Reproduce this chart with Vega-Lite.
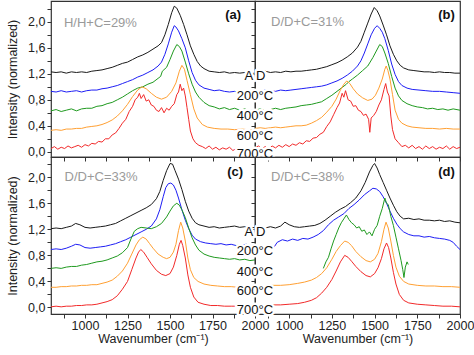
{
"$schema":"https://vega.github.io/schema/vega-lite/v6.json",
"padding":{"left":6,"top":0,"right":0,"bottom":0},
"spacing":0,
"bounds":"flush",
"columns":2,
"config":{"view":{"stroke":"#333","strokeWidth":1.2},
"axis":{"domain":false,"grid":false,"tickColor":"#333","tickSize":4,"labelOverlap":false,"labelFlush":false,"labelFont":"Liberation Sans","labelFontSize":12.5,"labelColor":"#222","titleFont":"Liberation Sans","titleFontSize":12.5,"titleFontWeight":"normal","titleColor":"#222"},
"axisY":{"labelOverlap":false},
"text":{"font":"Liberation Sans"},
"line":{"strokeWidth":1}},
"datasets":{
"a":[
{"s":1,"x":800,"y":1.23},{"s":1,"x":830,"y":1.22},{"s":1,"x":860,"y":1.23},{"s":1,"x":890,"y":1.21},{"s":1,"x":920,"y":1.23},{"s":1,"x":950,"y":1.22},{"s":1,"x":980,"y":1.23},{"s":1,"x":1010,"y":1.22},{"s":1,"x":1040,"y":1.24},{"s":1,"x":1070,"y":1.25},{"s":1,"x":1100,"y":1.26},{"s":1,"x":1130,"y":1.28},{"s":1,"x":1160,"y":1.3},{"s":1,"x":1190,"y":1.33},{"s":1,"x":1220,"y":1.36},{"s":1,"x":1250,"y":1.38},{"s":1,"x":1280,"y":1.42},{"s":1,"x":1310,"y":1.46},{"s":1,"x":1340,"y":1.49},{"s":1,"x":1370,"y":1.53},{"s":1,"x":1400,"y":1.58},{"s":1,"x":1430,"y":1.63},{"s":1,"x":1450,"y":1.68},{"s":1,"x":1470,"y":1.8},{"s":1,"x":1490,"y":1.96},{"s":1,"x":1510,"y":2.14},{"s":1,"x":1525,"y":2.24},{"s":1,"x":1540,"y":2.21},{"s":1,"x":1560,"y":2.1},{"s":1,"x":1580,"y":1.96},{"s":1,"x":1600,"y":1.8},{"s":1,"x":1620,"y":1.63},{"s":1,"x":1640,"y":1.5},{"s":1,"x":1660,"y":1.39},{"s":1,"x":1680,"y":1.32},{"s":1,"x":1700,"y":1.28},{"s":1,"x":1730,"y":1.24},{"s":1,"x":1760,"y":1.23},{"s":1,"x":1790,"y":1.22},{"s":1,"x":1820,"y":1.23},{"s":1,"x":1850,"y":1.21},{"s":1,"x":1880,"y":1.22},{"s":1,"x":1910,"y":1.21},{"s":1,"x":1940,"y":1.22},{"s":1,"x":1970,"y":1.2},{"s":1,"x":2000,"y":1.21},
{"s":2,"x":800,"y":0.93},{"s":2,"x":830,"y":0.92},{"s":2,"x":860,"y":0.94},{"s":2,"x":890,"y":0.92},{"s":2,"x":920,"y":0.93},{"s":2,"x":950,"y":0.94},{"s":2,"x":980,"y":0.92},{"s":2,"x":1010,"y":0.94},{"s":2,"x":1040,"y":0.95},{"s":2,"x":1070,"y":0.95},{"s":2,"x":1100,"y":0.97},{"s":2,"x":1130,"y":0.98},{"s":2,"x":1160,"y":1.0},{"s":2,"x":1190,"y":1.02},{"s":2,"x":1220,"y":1.05},{"s":2,"x":1250,"y":1.08},{"s":2,"x":1280,"y":1.11},{"s":2,"x":1310,"y":1.15},{"s":2,"x":1340,"y":1.18},{"s":2,"x":1370,"y":1.22},{"s":2,"x":1400,"y":1.26},{"s":2,"x":1430,"y":1.32},{"s":2,"x":1450,"y":1.38},{"s":2,"x":1470,"y":1.5},{"s":2,"x":1490,"y":1.66},{"s":2,"x":1510,"y":1.84},{"s":2,"x":1525,"y":1.94},{"s":2,"x":1535,"y":1.92},{"s":2,"x":1550,"y":1.86},{"s":2,"x":1570,"y":1.74},{"s":2,"x":1590,"y":1.6},{"s":2,"x":1610,"y":1.4},{"s":2,"x":1630,"y":1.22},{"s":2,"x":1650,"y":1.1},{"s":2,"x":1670,"y":1.03},{"s":2,"x":1700,"y":0.98},{"s":2,"x":1730,"y":0.96},{"s":2,"x":1760,"y":0.94},{"s":2,"x":1790,"y":0.95},{"s":2,"x":1820,"y":0.93},{"s":2,"x":1850,"y":0.92},{"s":2,"x":1880,"y":0.93},{"s":2,"x":1910,"y":0.91},{"s":2,"x":1940,"y":0.92},{"s":2,"x":1970,"y":0.9},{"s":2,"x":2000,"y":0.91},
{"s":3,"x":800,"y":0.63},{"s":3,"x":830,"y":0.65},{"s":3,"x":860,"y":0.62},{"s":3,"x":890,"y":0.64},{"s":3,"x":920,"y":0.66},{"s":3,"x":950,"y":0.63},{"s":3,"x":980,"y":0.66},{"s":3,"x":1010,"y":0.67},{"s":3,"x":1040,"y":0.67},{"s":3,"x":1070,"y":0.7},{"s":3,"x":1100,"y":0.71},{"s":3,"x":1130,"y":0.74},{"s":3,"x":1160,"y":0.76},{"s":3,"x":1190,"y":0.8},{"s":3,"x":1220,"y":0.84},{"s":3,"x":1250,"y":0.89},{"s":3,"x":1280,"y":0.94},{"s":3,"x":1310,"y":0.98},{"s":3,"x":1340,"y":1.0},{"s":3,"x":1370,"y":1.04},{"s":3,"x":1400,"y":1.07},{"s":3,"x":1430,"y":1.13},{"s":3,"x":1445,"y":1.16},{"s":3,"x":1455,"y":1.24},{"s":3,"x":1480,"y":1.3},{"s":3,"x":1500,"y":1.42},{"s":3,"x":1520,"y":1.55},{"s":3,"x":1540,"y":1.65},{"s":3,"x":1555,"y":1.62},{"s":3,"x":1570,"y":1.55},{"s":3,"x":1590,"y":1.38},{"s":3,"x":1610,"y":1.2},{"s":3,"x":1630,"y":1.04},{"s":3,"x":1650,"y":0.92},{"s":3,"x":1670,"y":0.84},{"s":3,"x":1700,"y":0.76},{"s":3,"x":1730,"y":0.71},{"s":3,"x":1760,"y":0.69},{"s":3,"x":1790,"y":0.66},{"s":3,"x":1820,"y":0.68},{"s":3,"x":1850,"y":0.65},{"s":3,"x":1880,"y":0.67},{"s":3,"x":1910,"y":0.64},{"s":3,"x":1940,"y":0.66},{"s":3,"x":1970,"y":0.63},{"s":3,"x":2000,"y":0.65},
{"s":4,"x":800,"y":0.33},{"s":4,"x":830,"y":0.34},{"s":4,"x":860,"y":0.33},{"s":4,"x":890,"y":0.35},{"s":4,"x":920,"y":0.35},{"s":4,"x":950,"y":0.36},{"s":4,"x":980,"y":0.36},{"s":4,"x":1010,"y":0.38},{"s":4,"x":1040,"y":0.39},{"s":4,"x":1070,"y":0.4},{"s":4,"x":1100,"y":0.42},{"s":4,"x":1130,"y":0.45},{"s":4,"x":1160,"y":0.49},{"s":4,"x":1190,"y":0.55},{"s":4,"x":1220,"y":0.63},{"s":4,"x":1250,"y":0.73},{"s":4,"x":1280,"y":0.85},{"s":4,"x":1310,"y":0.95},{"s":4,"x":1335,"y":1.0},{"s":4,"x":1360,"y":0.97},{"s":4,"x":1390,"y":0.9},{"s":4,"x":1420,"y":0.84},{"s":4,"x":1450,"y":0.81},{"s":4,"x":1480,"y":0.84},{"s":4,"x":1510,"y":0.93},{"s":4,"x":1535,"y":1.06},{"s":4,"x":1555,"y":1.24},{"s":4,"x":1570,"y":1.33},{"s":4,"x":1585,"y":1.27},{"s":4,"x":1600,"y":1.1},{"s":4,"x":1620,"y":0.88},{"s":4,"x":1640,"y":0.66},{"s":4,"x":1660,"y":0.52},{"s":4,"x":1690,"y":0.42},{"s":4,"x":1720,"y":0.38},{"s":4,"x":1760,"y":0.36},{"s":4,"x":1800,"y":0.35},{"s":4,"x":1840,"y":0.35},{"s":4,"x":1880,"y":0.34},{"s":4,"x":1920,"y":0.35},{"s":4,"x":1960,"y":0.34},{"s":4,"x":2000,"y":0.34},
{"s":5,"x":800,"y":0.05},{"s":5,"x":820,"y":0.08},{"s":5,"x":840,"y":0.04},{"s":5,"x":860,"y":0.07},{"s":5,"x":880,"y":0.05},{"s":5,"x":900,"y":0.09},{"s":5,"x":920,"y":0.06},{"s":5,"x":940,"y":0.08},{"s":5,"x":960,"y":0.1},{"s":5,"x":980,"y":0.07},{"s":5,"x":1000,"y":0.11},{"s":5,"x":1020,"y":0.09},{"s":5,"x":1040,"y":0.13},{"s":5,"x":1060,"y":0.12},{"s":5,"x":1080,"y":0.16},{"s":5,"x":1100,"y":0.15},{"s":5,"x":1120,"y":0.2},{"s":5,"x":1140,"y":0.2},{"s":5,"x":1160,"y":0.26},{"s":5,"x":1180,"y":0.29},{"s":5,"x":1200,"y":0.36},{"s":5,"x":1220,"y":0.44},{"s":5,"x":1240,"y":0.5},{"s":5,"x":1260,"y":0.62},{"s":5,"x":1280,"y":0.7},{"s":5,"x":1295,"y":0.8},{"s":5,"x":1310,"y":0.84},{"s":5,"x":1320,"y":0.9},{"s":5,"x":1330,"y":0.82},{"s":5,"x":1345,"y":0.88},{"s":5,"x":1360,"y":0.78},{"s":5,"x":1375,"y":0.8},{"s":5,"x":1390,"y":0.72},{"s":5,"x":1405,"y":0.7},{"s":5,"x":1420,"y":0.64},{"s":5,"x":1435,"y":0.62},{"s":5,"x":1450,"y":0.68},{"s":5,"x":1465,"y":0.6},{"s":5,"x":1480,"y":0.67},{"s":5,"x":1495,"y":0.64},{"s":5,"x":1510,"y":0.7},{"s":5,"x":1525,"y":0.74},{"s":5,"x":1540,"y":0.88},{"s":5,"x":1550,"y":0.92},{"s":5,"x":1560,"y":1.04},{"s":5,"x":1570,"y":0.94},{"s":5,"x":1580,"y":0.98},{"s":5,"x":1590,"y":0.86},{"s":5,"x":1600,"y":0.68},{"s":5,"x":1610,"y":0.5},{"s":5,"x":1620,"y":0.32},{"s":5,"x":1635,"y":0.2},{"s":5,"x":1650,"y":0.14},{"s":5,"x":1670,"y":0.1},{"s":5,"x":1690,"y":0.08},{"s":5,"x":1710,"y":0.05},{"s":5,"x":1730,"y":0.09},{"s":5,"x":1750,"y":0.04},{"s":5,"x":1770,"y":0.07},{"s":5,"x":1790,"y":0.03},{"s":5,"x":1810,"y":0.06},{"s":5,"x":1830,"y":0.04},{"s":5,"x":1850,"y":0.07},{"s":5,"x":1870,"y":0.02},{"s":5,"x":1890,"y":0.05},{"s":5,"x":1910,"y":0.03},{"s":5,"x":1930,"y":0.06},{"s":5,"x":1950,"y":0.02},{"s":5,"x":1970,"y":0.05},{"s":5,"x":2000,"y":0.03}
],
"b":[
{"s":1,"x":800,"y":1.23},{"s":1,"x":830,"y":1.22},{"s":1,"x":860,"y":1.24},{"s":1,"x":890,"y":1.22},{"s":1,"x":920,"y":1.23},{"s":1,"x":950,"y":1.22},{"s":1,"x":980,"y":1.24},{"s":1,"x":1010,"y":1.23},{"s":1,"x":1040,"y":1.24},{"s":1,"x":1070,"y":1.24},{"s":1,"x":1100,"y":1.25},{"s":1,"x":1130,"y":1.26},{"s":1,"x":1160,"y":1.27},{"s":1,"x":1190,"y":1.29},{"s":1,"x":1220,"y":1.31},{"s":1,"x":1250,"y":1.34},{"s":1,"x":1280,"y":1.37},{"s":1,"x":1310,"y":1.41},{"s":1,"x":1340,"y":1.46},{"s":1,"x":1370,"y":1.52},{"s":1,"x":1400,"y":1.61},{"s":1,"x":1420,"y":1.7},{"s":1,"x":1440,"y":1.84},{"s":1,"x":1460,"y":1.98},{"s":1,"x":1480,"y":2.12},{"s":1,"x":1498,"y":2.22},{"s":1,"x":1515,"y":2.17},{"s":1,"x":1530,"y":2.09},{"s":1,"x":1550,"y":1.95},{"s":1,"x":1570,"y":1.8},{"s":1,"x":1590,"y":1.63},{"s":1,"x":1610,"y":1.5},{"s":1,"x":1630,"y":1.4},{"s":1,"x":1650,"y":1.33},{"s":1,"x":1670,"y":1.29},{"s":1,"x":1700,"y":1.26},{"s":1,"x":1730,"y":1.25},{"s":1,"x":1760,"y":1.24},{"s":1,"x":1790,"y":1.23},{"s":1,"x":1820,"y":1.23},{"s":1,"x":1850,"y":1.22},{"s":1,"x":1880,"y":1.23},{"s":1,"x":1910,"y":1.22},{"s":1,"x":1940,"y":1.22},{"s":1,"x":1970,"y":1.21},{"s":1,"x":2000,"y":1.21},
{"s":2,"x":800,"y":0.94},{"s":2,"x":830,"y":0.93},{"s":2,"x":860,"y":0.95},{"s":2,"x":890,"y":0.94},{"s":2,"x":920,"y":0.93},{"s":2,"x":950,"y":0.95},{"s":2,"x":980,"y":0.94},{"s":2,"x":1010,"y":0.95},{"s":2,"x":1040,"y":0.96},{"s":2,"x":1070,"y":0.97},{"s":2,"x":1100,"y":0.98},{"s":2,"x":1130,"y":0.99},{"s":2,"x":1160,"y":1.0},{"s":2,"x":1190,"y":1.01},{"s":2,"x":1220,"y":1.03},{"s":2,"x":1250,"y":1.06},{"s":2,"x":1280,"y":1.09},{"s":2,"x":1310,"y":1.13},{"s":2,"x":1340,"y":1.18},{"s":2,"x":1370,"y":1.24},{"s":2,"x":1400,"y":1.32},{"s":2,"x":1420,"y":1.4},{"s":2,"x":1440,"y":1.52},{"s":2,"x":1460,"y":1.66},{"s":2,"x":1480,"y":1.8},{"s":2,"x":1500,"y":1.9},{"s":2,"x":1515,"y":1.94},{"s":2,"x":1530,"y":1.9},{"s":2,"x":1545,"y":1.84},{"s":2,"x":1560,"y":1.74},{"s":2,"x":1580,"y":1.56},{"s":2,"x":1600,"y":1.35},{"s":2,"x":1620,"y":1.19},{"s":2,"x":1640,"y":1.08},{"s":2,"x":1660,"y":1.02},{"s":2,"x":1690,"y":0.98},{"s":2,"x":1720,"y":0.96},{"s":2,"x":1760,"y":0.95},{"s":2,"x":1800,"y":0.94},{"s":2,"x":1840,"y":0.93},{"s":2,"x":1880,"y":0.93},{"s":2,"x":1920,"y":0.92},{"s":2,"x":1960,"y":0.91},{"s":2,"x":2000,"y":0.9},
{"s":3,"x":800,"y":0.64},{"s":3,"x":830,"y":0.66},{"s":3,"x":860,"y":0.63},{"s":3,"x":890,"y":0.65},{"s":3,"x":920,"y":0.67},{"s":3,"x":950,"y":0.65},{"s":3,"x":980,"y":0.67},{"s":3,"x":1010,"y":0.68},{"s":3,"x":1040,"y":0.69},{"s":3,"x":1070,"y":0.71},{"s":3,"x":1100,"y":0.72},{"s":3,"x":1130,"y":0.73},{"s":3,"x":1160,"y":0.75},{"s":3,"x":1190,"y":0.77},{"s":3,"x":1220,"y":0.82},{"s":3,"x":1250,"y":0.87},{"s":3,"x":1280,"y":0.93},{"s":3,"x":1310,"y":0.99},{"s":3,"x":1335,"y":1.04},{"s":3,"x":1350,"y":1.08},{"s":3,"x":1370,"y":1.12},{"s":3,"x":1400,"y":1.18},{"s":3,"x":1430,"y":1.25},{"s":3,"x":1460,"y":1.32},{"s":3,"x":1490,"y":1.45},{"s":3,"x":1510,"y":1.55},{"s":3,"x":1530,"y":1.65},{"s":3,"x":1545,"y":1.62},{"s":3,"x":1560,"y":1.52},{"s":3,"x":1580,"y":1.36},{"s":3,"x":1600,"y":1.16},{"s":3,"x":1620,"y":0.98},{"s":3,"x":1640,"y":0.86},{"s":3,"x":1660,"y":0.79},{"s":3,"x":1690,"y":0.74},{"s":3,"x":1720,"y":0.71},{"s":3,"x":1750,"y":0.69},{"s":3,"x":1780,"y":0.68},{"s":3,"x":1810,"y":0.66},{"s":3,"x":1840,"y":0.67},{"s":3,"x":1870,"y":0.65},{"s":3,"x":1900,"y":0.66},{"s":3,"x":1930,"y":0.64},{"s":3,"x":1960,"y":0.66},{"s":3,"x":2000,"y":0.64},
{"s":4,"x":800,"y":0.36},{"s":4,"x":830,"y":0.37},{"s":4,"x":860,"y":0.36},{"s":4,"x":890,"y":0.37},{"s":4,"x":920,"y":0.38},{"s":4,"x":950,"y":0.37},{"s":4,"x":980,"y":0.38},{"s":4,"x":1010,"y":0.39},{"s":4,"x":1040,"y":0.4},{"s":4,"x":1070,"y":0.4},{"s":4,"x":1100,"y":0.41},{"s":4,"x":1130,"y":0.44},{"s":4,"x":1160,"y":0.48},{"s":4,"x":1190,"y":0.53},{"s":4,"x":1220,"y":0.61},{"s":4,"x":1250,"y":0.7},{"s":4,"x":1275,"y":0.81},{"s":4,"x":1300,"y":0.95},{"s":4,"x":1320,"y":1.04},{"s":4,"x":1337,"y":1.09},{"s":4,"x":1355,"y":1.05},{"s":4,"x":1375,"y":0.97},{"s":4,"x":1400,"y":0.89},{"s":4,"x":1430,"y":0.83},{"s":4,"x":1460,"y":0.79},{"s":4,"x":1485,"y":0.81},{"s":4,"x":1505,"y":0.87},{"s":4,"x":1525,"y":0.98},{"s":4,"x":1545,"y":1.12},{"s":4,"x":1560,"y":1.27},{"s":4,"x":1568,"y":1.32},{"s":4,"x":1578,"y":1.25},{"s":4,"x":1590,"y":1.12},{"s":4,"x":1605,"y":0.88},{"s":4,"x":1620,"y":0.64},{"s":4,"x":1640,"y":0.5},{"s":4,"x":1660,"y":0.44},{"s":4,"x":1690,"y":0.4},{"s":4,"x":1720,"y":0.38},{"s":4,"x":1760,"y":0.37},{"s":4,"x":1800,"y":0.36},{"s":4,"x":1840,"y":0.36},{"s":4,"x":1880,"y":0.35},{"s":4,"x":1920,"y":0.36},{"s":4,"x":1960,"y":0.35},{"s":4,"x":2000,"y":0.35},
{"s":5,"x":800,"y":0.06},{"s":5,"x":820,"y":0.09},{"s":5,"x":840,"y":0.05},{"s":5,"x":860,"y":0.08},{"s":5,"x":880,"y":0.04},{"s":5,"x":900,"y":0.09},{"s":5,"x":920,"y":0.06},{"s":5,"x":940,"y":0.1},{"s":5,"x":960,"y":0.07},{"s":5,"x":980,"y":0.11},{"s":5,"x":1000,"y":0.08},{"s":5,"x":1020,"y":0.12},{"s":5,"x":1040,"y":0.1},{"s":5,"x":1060,"y":0.14},{"s":5,"x":1080,"y":0.12},{"s":5,"x":1100,"y":0.17},{"s":5,"x":1120,"y":0.16},{"s":5,"x":1140,"y":0.21},{"s":5,"x":1160,"y":0.22},{"s":5,"x":1180,"y":0.27},{"s":5,"x":1200,"y":0.3},{"s":5,"x":1220,"y":0.39},{"s":5,"x":1240,"y":0.46},{"s":5,"x":1260,"y":0.57},{"s":5,"x":1280,"y":0.68},{"s":5,"x":1295,"y":0.75},{"s":5,"x":1310,"y":0.9},{"s":5,"x":1320,"y":0.84},{"s":5,"x":1330,"y":0.94},{"s":5,"x":1345,"y":0.8},{"s":5,"x":1360,"y":0.78},{"s":5,"x":1375,"y":0.7},{"s":5,"x":1390,"y":0.71},{"s":5,"x":1405,"y":0.64},{"s":5,"x":1420,"y":0.62},{"s":5,"x":1435,"y":0.56},{"s":5,"x":1450,"y":0.58},{"s":5,"x":1465,"y":0.5},{"s":5,"x":1472,"y":0.3},{"s":5,"x":1480,"y":0.52},{"s":5,"x":1495,"y":0.56},{"s":5,"x":1510,"y":0.62},{"s":5,"x":1525,"y":0.72},{"s":5,"x":1540,"y":0.8},{"s":5,"x":1555,"y":0.96},{"s":5,"x":1565,"y":1.05},{"s":5,"x":1575,"y":0.92},{"s":5,"x":1585,"y":0.86},{"s":5,"x":1595,"y":0.55},{"s":5,"x":1605,"y":0.34},{"s":5,"x":1620,"y":0.2},{"s":5,"x":1640,"y":0.14},{"s":5,"x":1660,"y":0.08},{"s":5,"x":1680,"y":0.1},{"s":5,"x":1700,"y":0.06},{"s":5,"x":1720,"y":0.1},{"s":5,"x":1740,"y":0.05},{"s":5,"x":1760,"y":0.08},{"s":5,"x":1780,"y":0.04},{"s":5,"x":1800,"y":0.09},{"s":5,"x":1820,"y":0.05},{"s":5,"x":1840,"y":0.08},{"s":5,"x":1860,"y":0.04},{"s":5,"x":1880,"y":0.07},{"s":5,"x":1900,"y":0.05},{"s":5,"x":1920,"y":0.09},{"s":5,"x":1940,"y":0.04},{"s":5,"x":1960,"y":0.08},{"s":5,"x":1980,"y":0.05},{"s":5,"x":2000,"y":0.07}
],
"c":[
{"s":1,"x":800,"y":1.21},{"s":1,"x":830,"y":1.22},{"s":1,"x":860,"y":1.21},{"s":1,"x":890,"y":1.23},{"s":1,"x":920,"y":1.25},{"s":1,"x":945,"y":1.29},{"s":1,"x":970,"y":1.27},{"s":1,"x":1000,"y":1.23},{"s":1,"x":1030,"y":1.22},{"s":1,"x":1060,"y":1.23},{"s":1,"x":1090,"y":1.24},{"s":1,"x":1120,"y":1.25},{"s":1,"x":1150,"y":1.27},{"s":1,"x":1180,"y":1.29},{"s":1,"x":1210,"y":1.33},{"s":1,"x":1240,"y":1.37},{"s":1,"x":1270,"y":1.41},{"s":1,"x":1300,"y":1.45},{"s":1,"x":1330,"y":1.49},{"s":1,"x":1360,"y":1.53},{"s":1,"x":1390,"y":1.58},{"s":1,"x":1420,"y":1.67},{"s":1,"x":1440,"y":1.78},{"s":1,"x":1460,"y":1.95},{"s":1,"x":1480,"y":2.1},{"s":1,"x":1500,"y":2.21},{"s":1,"x":1515,"y":2.2},{"s":1,"x":1530,"y":2.1},{"s":1,"x":1550,"y":1.97},{"s":1,"x":1570,"y":1.81},{"s":1,"x":1590,"y":1.63},{"s":1,"x":1610,"y":1.48},{"s":1,"x":1630,"y":1.37},{"s":1,"x":1650,"y":1.3},{"s":1,"x":1670,"y":1.27},{"s":1,"x":1700,"y":1.25},{"s":1,"x":1730,"y":1.23},{"s":1,"x":1760,"y":1.24},{"s":1,"x":1790,"y":1.22},{"s":1,"x":1820,"y":1.23},{"s":1,"x":1850,"y":1.24},{"s":1,"x":1880,"y":1.25},{"s":1,"x":1910,"y":1.23},{"s":1,"x":1940,"y":1.24},{"s":1,"x":1970,"y":1.22},{"s":1,"x":2000,"y":1.23},
{"s":2,"x":800,"y":0.89},{"s":2,"x":830,"y":0.9},{"s":2,"x":860,"y":0.89},{"s":2,"x":890,"y":0.91},{"s":2,"x":920,"y":0.94},{"s":2,"x":945,"y":0.97},{"s":2,"x":970,"y":0.96},{"s":2,"x":1000,"y":0.92},{"s":2,"x":1030,"y":0.91},{"s":2,"x":1060,"y":0.92},{"s":2,"x":1090,"y":0.93},{"s":2,"x":1120,"y":0.94},{"s":2,"x":1150,"y":0.96},{"s":2,"x":1180,"y":0.98},{"s":2,"x":1210,"y":1.01},{"s":2,"x":1240,"y":1.04},{"s":2,"x":1270,"y":1.08},{"s":2,"x":1300,"y":1.12},{"s":2,"x":1330,"y":1.16},{"s":2,"x":1360,"y":1.2},{"s":2,"x":1390,"y":1.25},{"s":2,"x":1420,"y":1.36},{"s":2,"x":1440,"y":1.5},{"s":2,"x":1460,"y":1.7},{"s":2,"x":1475,"y":1.84},{"s":2,"x":1490,"y":1.9},{"s":2,"x":1505,"y":1.91},{"s":2,"x":1520,"y":1.88},{"s":2,"x":1535,"y":1.8},{"s":2,"x":1550,"y":1.68},{"s":2,"x":1570,"y":1.5},{"s":2,"x":1590,"y":1.34},{"s":2,"x":1610,"y":1.21},{"s":2,"x":1630,"y":1.11},{"s":2,"x":1650,"y":1.05},{"s":2,"x":1680,"y":1.01},{"s":2,"x":1710,"y":0.99},{"s":2,"x":1740,"y":0.98},{"s":2,"x":1770,"y":0.97},{"s":2,"x":1800,"y":0.98},{"s":2,"x":1830,"y":0.96},{"s":2,"x":1860,"y":0.97},{"s":2,"x":1890,"y":0.95},{"s":2,"x":1920,"y":0.96},{"s":2,"x":1950,"y":0.97},{"s":2,"x":1980,"y":0.95},{"s":2,"x":2000,"y":0.96},
{"s":3,"x":800,"y":0.6},{"s":3,"x":830,"y":0.61},{"s":3,"x":860,"y":0.6},{"s":3,"x":890,"y":0.62},{"s":3,"x":920,"y":0.63},{"s":3,"x":950,"y":0.63},{"s":3,"x":980,"y":0.65},{"s":3,"x":1010,"y":0.66},{"s":3,"x":1040,"y":0.68},{"s":3,"x":1070,"y":0.7},{"s":3,"x":1100,"y":0.71},{"s":3,"x":1130,"y":0.73},{"s":3,"x":1160,"y":0.76},{"s":3,"x":1190,"y":0.79},{"s":3,"x":1220,"y":0.84},{"s":3,"x":1250,"y":0.92},{"s":3,"x":1270,"y":1.05},{"s":3,"x":1290,"y":1.17},{"s":3,"x":1310,"y":1.21},{"s":3,"x":1330,"y":1.23},{"s":3,"x":1360,"y":1.22},{"s":3,"x":1390,"y":1.21},{"s":3,"x":1420,"y":1.24},{"s":3,"x":1450,"y":1.29},{"s":3,"x":1480,"y":1.39},{"s":3,"x":1500,"y":1.48},{"s":3,"x":1520,"y":1.56},{"s":3,"x":1540,"y":1.6},{"s":3,"x":1555,"y":1.57},{"s":3,"x":1570,"y":1.5},{"s":3,"x":1590,"y":1.38},{"s":3,"x":1610,"y":1.22},{"s":3,"x":1630,"y":1.07},{"s":3,"x":1650,"y":0.96},{"s":3,"x":1670,"y":0.88},{"s":3,"x":1700,"y":0.82},{"s":3,"x":1730,"y":0.79},{"s":3,"x":1760,"y":0.77},{"s":3,"x":1790,"y":0.76},{"s":3,"x":1820,"y":0.75},{"s":3,"x":1850,"y":0.74},{"s":3,"x":1880,"y":0.75},{"s":3,"x":1910,"y":0.73},{"s":3,"x":1940,"y":0.74},{"s":3,"x":1970,"y":0.72},{"s":3,"x":2000,"y":0.73},
{"s":4,"x":800,"y":0.31},{"s":4,"x":830,"y":0.31},{"s":4,"x":860,"y":0.32},{"s":4,"x":890,"y":0.32},{"s":4,"x":920,"y":0.33},{"s":4,"x":950,"y":0.33},{"s":4,"x":980,"y":0.34},{"s":4,"x":1010,"y":0.34},{"s":4,"x":1040,"y":0.35},{"s":4,"x":1070,"y":0.35},{"s":4,"x":1100,"y":0.37},{"s":4,"x":1130,"y":0.39},{"s":4,"x":1160,"y":0.42},{"s":4,"x":1190,"y":0.48},{"s":4,"x":1220,"y":0.56},{"s":4,"x":1250,"y":0.68},{"s":4,"x":1275,"y":0.82},{"s":4,"x":1300,"y":0.96},{"s":4,"x":1320,"y":1.04},{"s":4,"x":1340,"y":1.08},{"s":4,"x":1360,"y":1.05},{"s":4,"x":1380,"y":0.98},{"s":4,"x":1400,"y":0.91},{"s":4,"x":1430,"y":0.82},{"s":4,"x":1460,"y":0.77},{"s":4,"x":1480,"y":0.75},{"s":4,"x":1500,"y":0.77},{"s":4,"x":1520,"y":0.85},{"s":4,"x":1535,"y":0.97},{"s":4,"x":1550,"y":1.18},{"s":4,"x":1563,"y":1.31},{"s":4,"x":1575,"y":1.22},{"s":4,"x":1590,"y":1.02},{"s":4,"x":1605,"y":0.76},{"s":4,"x":1620,"y":0.58},{"s":4,"x":1640,"y":0.46},{"s":4,"x":1665,"y":0.4},{"s":4,"x":1700,"y":0.36},{"s":4,"x":1740,"y":0.34},{"s":4,"x":1780,"y":0.33},{"s":4,"x":1820,"y":0.32},{"s":4,"x":1860,"y":0.32},{"s":4,"x":1900,"y":0.31},{"s":4,"x":1940,"y":0.31},{"s":4,"x":1970,"y":0.31},{"s":4,"x":2000,"y":0.3},
{"s":5,"x":800,"y":0.01},{"s":5,"x":830,"y":0.02},{"s":5,"x":860,"y":0.01},{"s":5,"x":890,"y":0.02},{"s":5,"x":920,"y":0.02},{"s":5,"x":950,"y":0.03},{"s":5,"x":980,"y":0.03},{"s":5,"x":1010,"y":0.04},{"s":5,"x":1040,"y":0.04},{"s":5,"x":1070,"y":0.05},{"s":5,"x":1100,"y":0.07},{"s":5,"x":1130,"y":0.09},{"s":5,"x":1160,"y":0.12},{"s":5,"x":1190,"y":0.18},{"s":5,"x":1220,"y":0.28},{"s":5,"x":1250,"y":0.4},{"s":5,"x":1275,"y":0.58},{"s":5,"x":1300,"y":0.76},{"s":5,"x":1315,"y":0.85},{"s":5,"x":1328,"y":0.89},{"s":5,"x":1345,"y":0.85},{"s":5,"x":1365,"y":0.77},{"s":5,"x":1390,"y":0.67},{"s":5,"x":1420,"y":0.57},{"s":5,"x":1450,"y":0.51},{"s":5,"x":1475,"y":0.49},{"s":5,"x":1500,"y":0.52},{"s":5,"x":1520,"y":0.62},{"s":5,"x":1540,"y":0.8},{"s":5,"x":1555,"y":0.97},{"s":5,"x":1565,"y":1.03},{"s":5,"x":1575,"y":0.95},{"s":5,"x":1590,"y":0.76},{"s":5,"x":1605,"y":0.5},{"s":5,"x":1620,"y":0.31},{"s":5,"x":1640,"y":0.16},{"s":5,"x":1665,"y":0.08},{"s":5,"x":1700,"y":0.05},{"s":5,"x":1740,"y":0.03},{"s":5,"x":1780,"y":0.03},{"s":5,"x":1820,"y":0.02},{"s":5,"x":1860,"y":0.02},{"s":5,"x":1900,"y":0.02},{"s":5,"x":1940,"y":0.01},{"s":5,"x":2000,"y":0.01}
],
"d":[
{"s":1,"x":800,"y":1.21},{"s":1,"x":830,"y":1.23},{"s":1,"x":860,"y":1.22},{"s":1,"x":890,"y":1.24},{"s":1,"x":920,"y":1.22},{"s":1,"x":950,"y":1.25},{"s":1,"x":975,"y":1.31},{"s":1,"x":1000,"y":1.27},{"s":1,"x":1030,"y":1.24},{"s":1,"x":1060,"y":1.23},{"s":1,"x":1090,"y":1.24},{"s":1,"x":1120,"y":1.25},{"s":1,"x":1150,"y":1.26},{"s":1,"x":1180,"y":1.29},{"s":1,"x":1210,"y":1.34},{"s":1,"x":1240,"y":1.4},{"s":1,"x":1270,"y":1.46},{"s":1,"x":1300,"y":1.51},{"s":1,"x":1330,"y":1.55},{"s":1,"x":1360,"y":1.61},{"s":1,"x":1390,"y":1.68},{"s":1,"x":1420,"y":1.79},{"s":1,"x":1445,"y":1.92},{"s":1,"x":1470,"y":2.08},{"s":1,"x":1490,"y":2.18},{"s":1,"x":1500,"y":2.21},{"s":1,"x":1515,"y":2.14},{"s":1,"x":1530,"y":2.04},{"s":1,"x":1550,"y":1.92},{"s":1,"x":1570,"y":1.8},{"s":1,"x":1590,"y":1.68},{"s":1,"x":1610,"y":1.57},{"s":1,"x":1630,"y":1.47},{"s":1,"x":1650,"y":1.4},{"s":1,"x":1670,"y":1.36},{"s":1,"x":1700,"y":1.37},{"s":1,"x":1730,"y":1.35},{"s":1,"x":1760,"y":1.36},{"s":1,"x":1790,"y":1.34},{"s":1,"x":1820,"y":1.34},{"s":1,"x":1850,"y":1.33},{"s":1,"x":1880,"y":1.34},{"s":1,"x":1910,"y":1.32},{"s":1,"x":1940,"y":1.33},{"s":1,"x":1970,"y":1.31},{"s":1,"x":2000,"y":1.3},
{"s":2,"x":800,"y":0.92},{"s":2,"x":830,"y":0.95},{"s":2,"x":860,"y":0.93},{"s":2,"x":890,"y":0.94},{"s":2,"x":910,"y":0.92},{"s":2,"x":930,"y":1.0},{"s":2,"x":960,"y":1.04},{"s":2,"x":990,"y":1.02},{"s":2,"x":1020,"y":1.05},{"s":2,"x":1050,"y":1.03},{"s":2,"x":1080,"y":1.06},{"s":2,"x":1110,"y":1.05},{"s":2,"x":1140,"y":1.08},{"s":2,"x":1170,"y":1.12},{"s":2,"x":1200,"y":1.18},{"s":2,"x":1230,"y":1.27},{"s":2,"x":1260,"y":1.34},{"s":2,"x":1290,"y":1.39},{"s":2,"x":1320,"y":1.44},{"s":2,"x":1350,"y":1.52},{"s":2,"x":1380,"y":1.58},{"s":2,"x":1410,"y":1.65},{"s":2,"x":1440,"y":1.73},{"s":2,"x":1470,"y":1.79},{"s":2,"x":1490,"y":1.83},{"s":2,"x":1510,"y":1.82},{"s":2,"x":1530,"y":1.78},{"s":2,"x":1550,"y":1.7},{"s":2,"x":1570,"y":1.6},{"s":2,"x":1590,"y":1.48},{"s":2,"x":1610,"y":1.37},{"s":2,"x":1630,"y":1.28},{"s":2,"x":1650,"y":1.21},{"s":2,"x":1670,"y":1.16},{"s":2,"x":1700,"y":1.12},{"s":2,"x":1730,"y":1.1},{"s":2,"x":1760,"y":1.1},{"s":2,"x":1790,"y":1.08},{"s":2,"x":1820,"y":1.09},{"s":2,"x":1850,"y":1.07},{"s":2,"x":1880,"y":1.06},{"s":2,"x":1910,"y":1.05},{"s":2,"x":1940,"y":1.03},{"s":2,"x":1960,"y":1.0},{"s":2,"x":1980,"y":0.94},{"s":2,"x":2000,"y":0.89},
{"s":3,"x":1200,"y":0.6},{"s":3,"x":1215,"y":0.7},{"s":3,"x":1230,"y":0.77},{"s":3,"x":1245,"y":0.9},{"s":3,"x":1260,"y":1.02},{"s":3,"x":1275,"y":1.12},{"s":3,"x":1290,"y":1.22},{"s":3,"x":1305,"y":1.3},{"s":3,"x":1320,"y":1.36},{"s":3,"x":1335,"y":1.42},{"s":3,"x":1350,"y":1.35},{"s":3,"x":1365,"y":1.3},{"s":3,"x":1380,"y":1.27},{"s":3,"x":1395,"y":1.22},{"s":3,"x":1410,"y":1.24},{"s":3,"x":1425,"y":1.17},{"s":3,"x":1440,"y":1.19},{"s":3,"x":1455,"y":1.12},{"s":3,"x":1470,"y":1.16},{"s":3,"x":1485,"y":1.1},{"s":3,"x":1500,"y":1.2},{"s":3,"x":1515,"y":1.26},{"s":3,"x":1530,"y":1.4},{"s":3,"x":1545,"y":1.52},{"s":3,"x":1560,"y":1.68},{"s":3,"x":1570,"y":1.6},{"s":3,"x":1580,"y":1.58},{"s":3,"x":1595,"y":1.4},{"s":3,"x":1610,"y":1.26},{"s":3,"x":1625,"y":1.08},{"s":3,"x":1640,"y":0.9},{"s":3,"x":1655,"y":0.72},{"s":3,"x":1665,"y":0.58},{"s":3,"x":1672,"y":0.46},{"s":3,"x":1680,"y":0.62},{"s":3,"x":1690,"y":0.7},{"s":3,"x":1697,"y":0.66},
{"s":4,"x":800,"y":0.33},{"s":4,"x":850,"y":0.33},{"s":4,"x":900,"y":0.34},{"s":4,"x":950,"y":0.34},{"s":4,"x":1000,"y":0.35},{"s":4,"x":1050,"y":0.37},{"s":4,"x":1090,"y":0.39},{"s":4,"x":1130,"y":0.42},{"s":4,"x":1160,"y":0.46},{"s":4,"x":1190,"y":0.52},{"s":4,"x":1220,"y":0.61},{"s":4,"x":1250,"y":0.74},{"s":4,"x":1275,"y":0.86},{"s":4,"x":1300,"y":0.95},{"s":4,"x":1325,"y":1.02},{"s":4,"x":1345,"y":1.0},{"s":4,"x":1365,"y":0.95},{"s":4,"x":1390,"y":0.86},{"s":4,"x":1420,"y":0.78},{"s":4,"x":1450,"y":0.72},{"s":4,"x":1475,"y":0.7},{"s":4,"x":1500,"y":0.74},{"s":4,"x":1520,"y":0.83},{"s":4,"x":1540,"y":1.01},{"s":4,"x":1555,"y":1.2},{"s":4,"x":1567,"y":1.31},{"s":4,"x":1580,"y":1.22},{"s":4,"x":1595,"y":1.02},{"s":4,"x":1610,"y":0.8},{"s":4,"x":1625,"y":0.62},{"s":4,"x":1645,"y":0.48},{"s":4,"x":1670,"y":0.4},{"s":4,"x":1700,"y":0.36},{"s":4,"x":1750,"y":0.34},{"s":4,"x":1800,"y":0.33},{"s":4,"x":1850,"y":0.33},{"s":4,"x":1900,"y":0.32},{"s":4,"x":1950,"y":0.32},{"s":4,"x":2000,"y":0.31},
{"s":5,"x":800,"y":0.03},{"s":5,"x":850,"y":0.03},{"s":5,"x":900,"y":0.04},{"s":5,"x":950,"y":0.04},{"s":5,"x":1000,"y":0.05},{"s":5,"x":1050,"y":0.06},{"s":5,"x":1090,"y":0.08},{"s":5,"x":1130,"y":0.11},{"s":5,"x":1160,"y":0.15},{"s":5,"x":1190,"y":0.22},{"s":5,"x":1220,"y":0.31},{"s":5,"x":1250,"y":0.43},{"s":5,"x":1275,"y":0.56},{"s":5,"x":1300,"y":0.7},{"s":5,"x":1325,"y":0.8},{"s":5,"x":1345,"y":0.77},{"s":5,"x":1365,"y":0.71},{"s":5,"x":1390,"y":0.63},{"s":5,"x":1420,"y":0.55},{"s":5,"x":1450,"y":0.49},{"s":5,"x":1475,"y":0.47},{"s":5,"x":1500,"y":0.52},{"s":5,"x":1520,"y":0.61},{"s":5,"x":1540,"y":0.75},{"s":5,"x":1555,"y":0.9},{"s":5,"x":1570,"y":0.99},{"s":5,"x":1582,"y":0.92},{"s":5,"x":1595,"y":0.76},{"s":5,"x":1610,"y":0.54},{"s":5,"x":1625,"y":0.36},{"s":5,"x":1645,"y":0.2},{"s":5,"x":1670,"y":0.11},{"s":5,"x":1700,"y":0.07},{"s":5,"x":1750,"y":0.05},{"s":5,"x":1800,"y":0.04},{"s":5,"x":1850,"y":0.03},{"s":5,"x":1900,"y":0.02},{"s":5,"x":1950,"y":0.02},{"s":5,"x":2000,"y":0.01}
],
"temps":[{"t":"A D","y":1.16},{"t":"200°C","y":0.86},{"t":"400°C","y":0.55},{"t":"600°C","y":0.25},{"t":"700°C","y":-0.04}]
},
"concat":[
{"width":204,"height":156,"resolve":{"axis":{"x":"independent","y":"independent"}},"layer":[
{"data":{"name":"a"},"mark":{"type":"line"},"encoding":{
"x":{"field":"x","type":"quantitative","scale":{"domain":[800,2000],"nice":false,"zero":false},"axis":{"values":[875,1000,1125,1250,1375,1500,1625,1750,1875,2000],"labels":false,"title":null}},
"y":{"field":"y","type":"quantitative","scale":{"domain":[-0.08,2.32],"nice":false,"zero":false},"axis":{"values":[0,0.2,0.4,0.6,0.8,1,1.2,1.4,1.6,1.8,2,2.2],"labelOverlap":false,"labelExpr":"round(datum.value*10)%4==0 ? replace(format(datum.value,'.1f'),'.',',') : ''","title":"Intensity (normalized)","titlePadding":8}},
"color":{"field":"s","type":"nominal","scale":{"domain":[1,2,3,4,5],"range":["#1a1a1a","#1e1ef5","#1f9a1f","#ffa033","#f22a2a"]},"legend":null}}},
{"data":{"values":[{"t":"H/H+C=29%"}]},"mark":{"type":"text","align":"left","baseline":"middle","fontSize":13,"color":"#9a9a9a"},"encoding":{"x":{"datum":876,"axis":null},"y":{"datum":1.98,"axis":null},"text":{"field":"t"}}},
{"data":{"values":[{"t":"(a)"}]},"mark":{"type":"text","align":"right","baseline":"middle","fontSize":13,"fontWeight":"bold","color":"#111"},"encoding":{"x":{"datum":1918,"axis":null},"y":{"datum":2.1,"axis":null},"text":{"field":"t"}}}
]},
{"width":205,"height":156,"resolve":{"axis":{"x":"independent","y":"independent"}},"layer":[
{"data":{"name":"b"},"mark":{"type":"line"},"encoding":{
"x":{"field":"x","type":"quantitative","scale":{"domain":[800,2000],"nice":false,"zero":false},"axis":{"values":[875,1000,1125,1250,1375,1500,1625,1750,1875,2000],"labels":false,"title":null}},
"y":{"field":"y","type":"quantitative","scale":{"domain":[-0.08,2.32],"nice":false,"zero":false},"axis":{"values":[0,0.2,0.4,0.6,0.8,1,1.2,1.4,1.6,1.8,2,2.2],"labels":false,"title":null}},
"color":{"field":"s","type":"nominal","scale":{"domain":[1,2,3,4,5],"range":["#1a1a1a","#1e1ef5","#1f9a1f","#ffa033","#f22a2a"]},"legend":null}}},
{"data":{"values":[{"t":"D/D+C=31%"}]},"mark":{"type":"text","align":"left","baseline":"middle","fontSize":13,"color":"#9a9a9a"},"encoding":{"x":{"datum":894,"axis":null},"y":{"datum":2.0,"axis":null},"text":{"field":"t"}}},
{"data":{"values":[{"t":"(b)"}]},"mark":{"type":"text","align":"right","baseline":"middle","fontSize":13,"fontWeight":"bold","color":"#111"},"encoding":{"x":{"datum":1970,"axis":null},"y":{"datum":2.1,"axis":null},"text":{"field":"t"}}},
{"data":{"name":"temps"},"mark":{"type":"text","align":"center","baseline":"middle","fontSize":13,"stroke":"white","strokeWidth":5,"strokeJoin":"round","fill":"white"},"encoding":{"x":{"datum":800,"axis":null},"y":{"field":"y","type":"quantitative","axis":null},"text":{"field":"t"}}},
{"data":{"name":"temps"},"mark":{"type":"text","align":"center","baseline":"middle","fontSize":13,"color":"#111"},"encoding":{"x":{"datum":800,"axis":null},"y":{"field":"y","type":"quantitative","axis":null},"text":{"field":"t"}}}
]},
{"width":204,"height":157,"resolve":{"axis":{"x":"independent","y":"independent"}},"layer":[
{"data":{"name":"c"},"mark":{"type":"line"},"encoding":{
"x":{"field":"x","type":"quantitative","scale":{"domain":[800,2000],"nice":false,"zero":false},"axis":{"values":[875,1000,1125,1250,1375,1500,1625,1750,1875,2000],"labelOverlap":false,"labelFlush":false,"labelPadding":1,"labelExpr":"datum.value%250==0 ? format(datum.value,'d') : ''","title":"Wavenumber (cm⁻¹)","titlePadding":1}},
"y":{"field":"y","type":"quantitative","scale":{"domain":[-0.1,2.31],"nice":false,"zero":false},"axis":{"values":[0,0.2,0.4,0.6,0.8,1,1.2,1.4,1.6,1.8,2,2.2],"labelOverlap":false,"labelExpr":"round(datum.value*10)%4==0 ? replace(format(datum.value,'.1f'),'.',',') : ''","title":"Intensity (normalized)","titlePadding":8}},
"color":{"field":"s","type":"nominal","scale":{"domain":[1,2,3,4,5],"range":["#1a1a1a","#1e1ef5","#1f9a1f","#ffa033","#f22a2a"]},"legend":null}}},
{"data":{"values":[{"t":"D/D+C=33%"}]},"mark":{"type":"text","align":"left","baseline":"middle","fontSize":13,"color":"#9a9a9a"},"encoding":{"x":{"datum":880,"axis":null},"y":{"datum":2.0,"axis":null},"text":{"field":"t"}}},
{"data":{"values":[{"t":"(c)"}]},"mark":{"type":"text","align":"right","baseline":"middle","fontSize":13,"fontWeight":"bold","color":"#111"},"encoding":{"x":{"datum":1930,"axis":null},"y":{"datum":2.08,"axis":null},"text":{"field":"t"}}}
]},
{"width":205,"height":157,"resolve":{"axis":{"x":"independent","y":"independent"}},"layer":[
{"data":{"name":"d"},"mark":{"type":"line"},"encoding":{
"x":{"field":"x","type":"quantitative","scale":{"domain":[800,2000],"nice":false,"zero":false},"axis":{"values":[875,1000,1125,1250,1375,1500,1625,1750,1875,2000],"labelOverlap":false,"labelFlush":false,"labelPadding":1,"labelExpr":"datum.value%250==0 ? format(datum.value,'d') : ''","title":"Wavenumber (cm⁻¹)","titlePadding":1}},
"y":{"field":"y","type":"quantitative","scale":{"domain":[-0.1,2.31],"nice":false,"zero":false},"axis":{"values":[0,0.2,0.4,0.6,0.8,1,1.2,1.4,1.6,1.8,2,2.2],"labels":false,"title":null}},
"color":{"field":"s","type":"nominal","scale":{"domain":[1,2,3,4,5],"range":["#1a1a1a","#1e1ef5","#1f9a1f","#ffa033","#f22a2a"]},"legend":null}}},
{"data":{"values":[{"t":"D/D+C=38%"}]},"mark":{"type":"text","align":"left","baseline":"middle","fontSize":13,"color":"#9a9a9a"},"encoding":{"x":{"datum":894,"axis":null},"y":{"datum":2.0,"axis":null},"text":{"field":"t"}}},
{"data":{"values":[{"t":"(d)"}]},"mark":{"type":"text","align":"right","baseline":"middle","fontSize":13,"fontWeight":"bold","color":"#111"},"encoding":{"x":{"datum":1970,"axis":null},"y":{"datum":2.08,"axis":null},"text":{"field":"t"}}},
{"data":{"name":"temps"},"mark":{"type":"text","align":"center","baseline":"middle","fontSize":13,"stroke":"white","strokeWidth":5,"strokeJoin":"round","fill":"white"},"encoding":{"x":{"datum":800,"axis":null},"y":{"field":"y","type":"quantitative","axis":null},"text":{"field":"t"}}},
{"data":{"name":"temps"},"mark":{"type":"text","align":"center","baseline":"middle","fontSize":13,"color":"#111"},"encoding":{"x":{"datum":800,"axis":null},"y":{"field":"y","type":"quantitative","axis":null},"text":{"field":"t"}}}
]}
]
}
